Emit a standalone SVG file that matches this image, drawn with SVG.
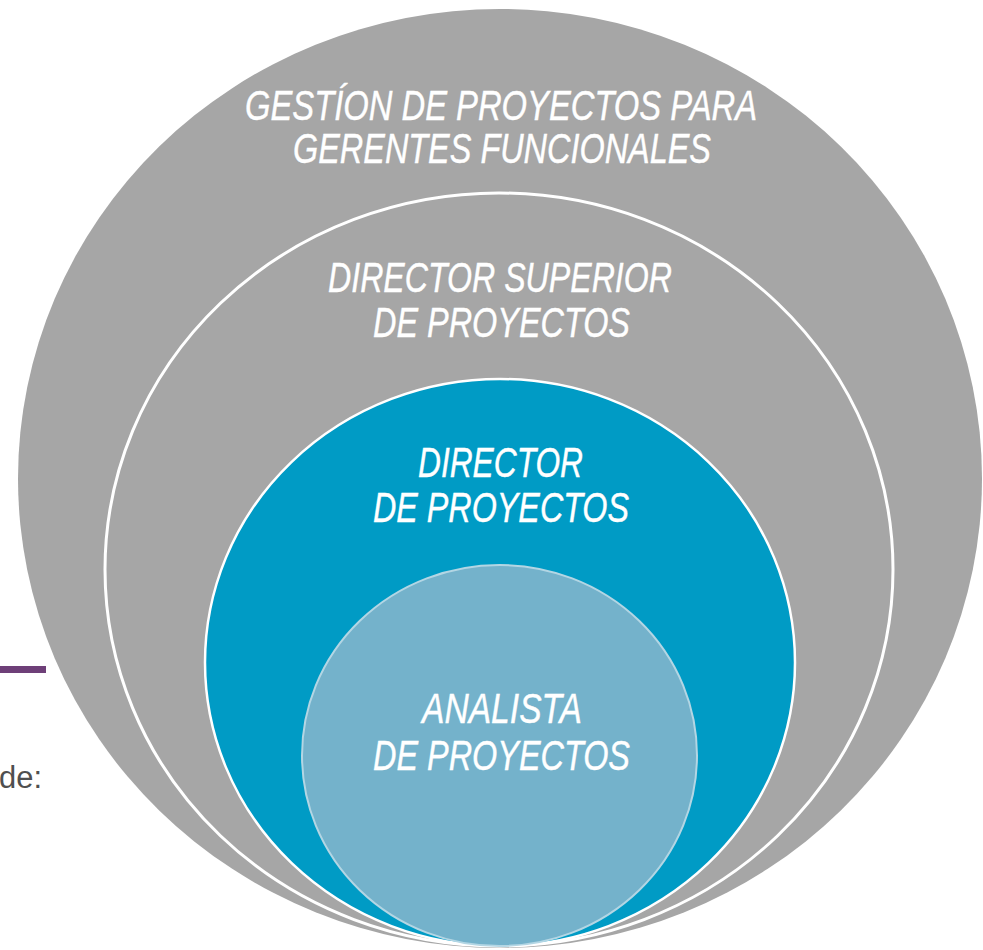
<svg xmlns="http://www.w3.org/2000/svg" width="983" height="950" viewBox="0 0 983 950">
<style>
.lbl{font-family:"Liberation Sans Narrow","Liberation Sans",Arial,sans-serif;font-style:italic;font-size:42px;fill:#ffffff;stroke:#ffffff;stroke-width:0.4}
</style>
<rect width="983" height="950" fill="#ffffff"/>
<rect x="0" y="666" width="46" height="7" fill="#6e3f78"/>
<text x="-1" y="788" font-family="'Liberation Sans',Arial,sans-serif" font-size="31" fill="#4f4f4f" textLength="43" lengthAdjust="spacingAndGlyphs">de:</text>
<g id="outer">
<ellipse cx="500" cy="478.5" rx="482" ry="469.5" fill="#a6a6a6"/>
<text class="lbl" x="245" y="120" textLength="512" lengthAdjust="spacingAndGlyphs">GESTÍON DE PROYECTOS PARA</text>
<text class="lbl" x="293" y="163" textLength="418" lengthAdjust="spacingAndGlyphs">GERENTES FUNCIONALES</text>
</g>
<g id="superior">
<ellipse cx="499" cy="569.5" rx="394" ry="376.5" fill="#a6a6a6" stroke="#ffffff" stroke-width="3"/>
<text class="lbl" x="328" y="292" textLength="344" lengthAdjust="spacingAndGlyphs">DIRECTOR SUPERIOR</text>
<text class="lbl" x="373" y="337" textLength="257" lengthAdjust="spacingAndGlyphs">DE PROYECTOS</text>
</g>
<g id="director">
<ellipse cx="500" cy="662.5" rx="295" ry="283.5" fill="#009bc5" stroke="#ffffff" stroke-width="2.5"/>
<text class="lbl" x="418" y="477" textLength="165" lengthAdjust="spacingAndGlyphs">DIRECTOR</text>
<text class="lbl" x="373" y="522" textLength="256" lengthAdjust="spacingAndGlyphs">DE PROYECTOS</text>
</g>
<g id="analista">
<ellipse cx="499.5" cy="755.5" rx="197.5" ry="190.5" fill="#74b2cb" stroke="#b3d6e4" stroke-width="2"/>
<text class="lbl" x="422" y="723" textLength="160" lengthAdjust="spacingAndGlyphs">ANALISTA</text>
<text class="lbl" x="373" y="770" textLength="257" lengthAdjust="spacingAndGlyphs">DE PROYECTOS</text>
</g>
<g id="connectors"/>
</svg>
